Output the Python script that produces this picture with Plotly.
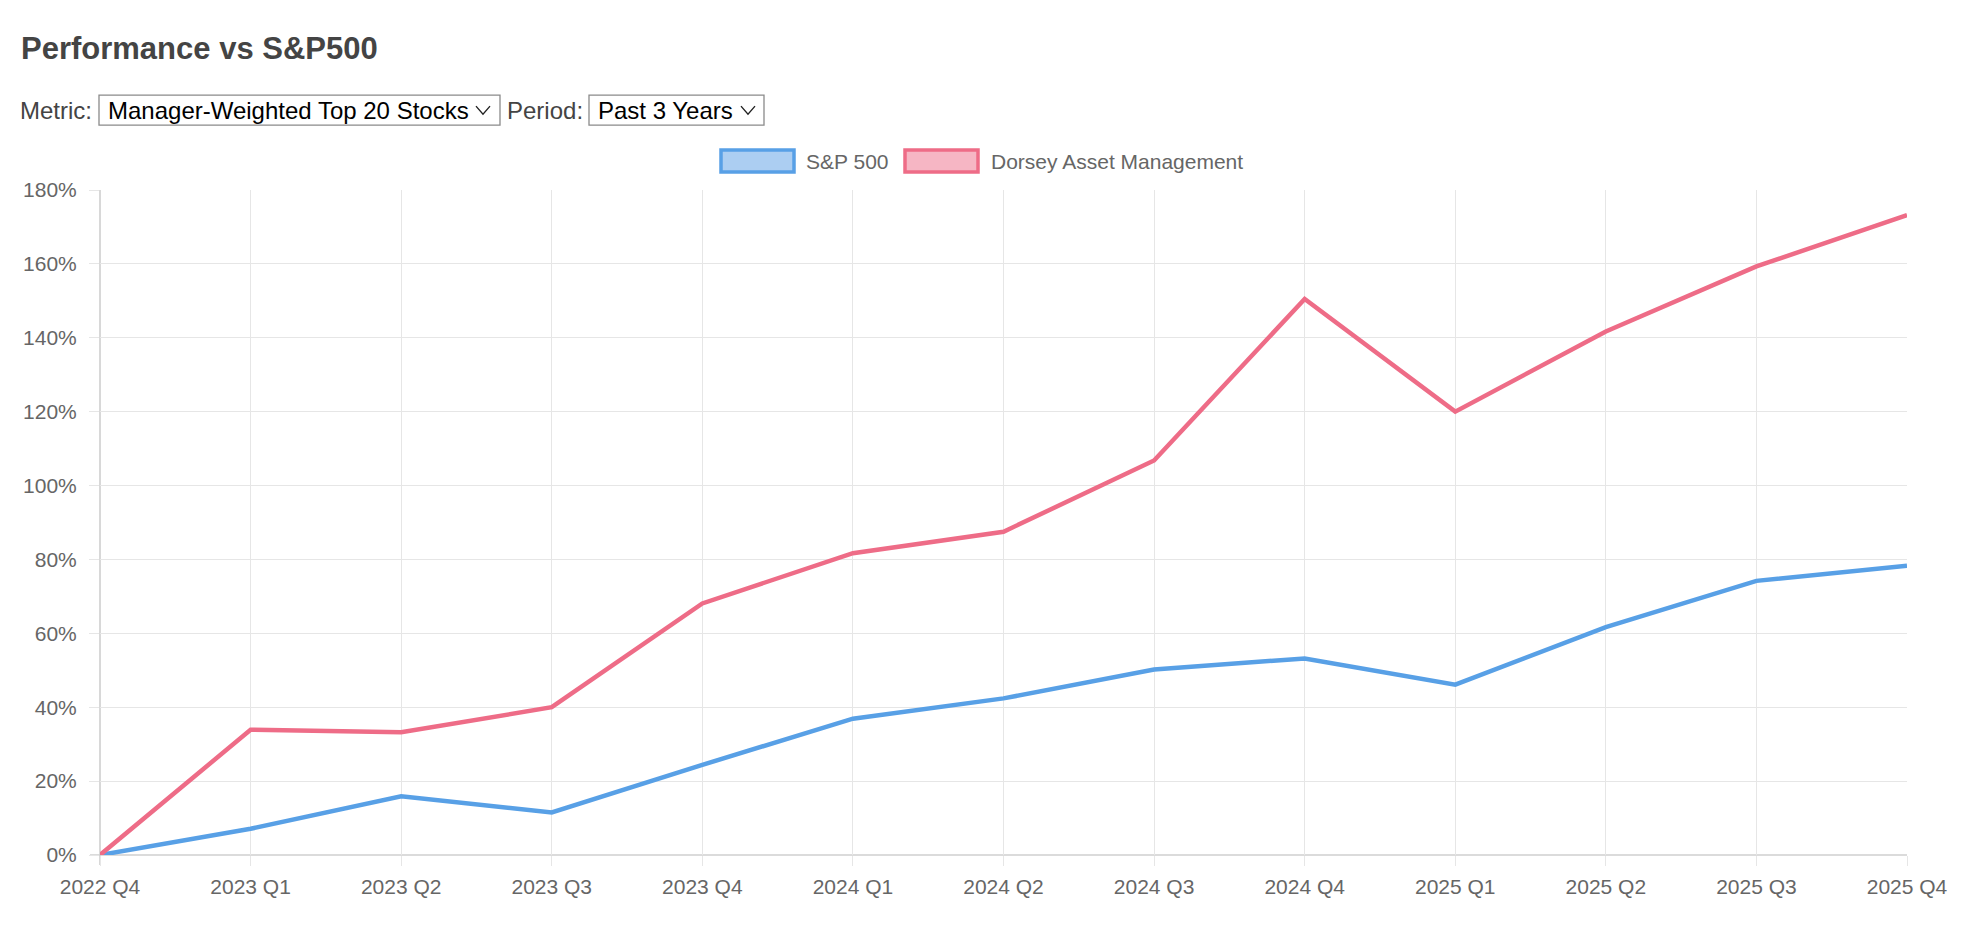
import plotly.graph_objects as go

quarters = ["2022 Q4", "2023 Q1", "2023 Q2", "2023 Q3", "2023 Q4", "2024 Q1", "2024 Q2",
            "2024 Q3", "2024 Q4", "2025 Q1", "2025 Q2", "2025 Q3", "2025 Q4"]
sp500 = [0, 7.1, 15.9, 11.5, 24.4, 36.9, 42.4, 50.2, 53.2, 46.1, 61.7, 74.2, 78.3]
dorsey = [0, 33.9, 33.2, 40.0, 68.1, 81.7, 87.5, 106.8, 150.5, 120.0, 141.7, 159.3, 173.2]
series_names = ["S&P 500", "Dorsey Asset Management"]
title_text = "Performance vs S&P500"
metric_label = "Metric:"
metric_value = "Manager-Weighted Top 20 Stocks"
period_label = "Period:"
period_value = "Past 3 Years"

W, H = 1964, 936
DX, DY = -8, -8.5
L, R, T, B = 100 + DX, 57 - DX, 190 + DY, 80 - DY
PW, PH = W - L - R, H - T - B

def px(x):
    return (x + DX - L) / PW

def py(y):
    return (H - B - (y + DY)) / PH

BLUE = "rgb(88,160,230)"
PINK = "rgb(238,108,135)"
BLUE_FILL = "rgb(172,206,242)"
PINK_FILL = "rgb(246,182,196)"
FONT = "Liberation Sans, Arial, Helvetica, sans-serif"

fig = go.Figure()
fig.add_trace(go.Scatter(x=list(range(len(quarters))), y=sp500, mode="lines", name=series_names[0],
                         line=dict(color=BLUE, width=4.5), showlegend=False))
fig.add_trace(go.Scatter(x=list(range(len(quarters))), y=dorsey, mode="lines", name=series_names[1],
                         line=dict(color=PINK, width=4.5), showlegend=False))

shapes = []
annotations = []

# Title
annotations.append(dict(x=px(19), y=py(48), xref="paper", yref="paper", xanchor="left", yanchor="middle",
                        text="<b>" + title_text.replace("&", "&amp;") + "</b>", showarrow=False,
                        font=dict(family=FONT, size=31, color="#444444")))

# Controls row
row_y = 110
CTRL = 24

def chevron(cx, cy):
    x0, x1, x2 = px(cx - 7), px(cx), px(cx + 7)
    ya, yb = py(cy - 4), py(cy + 4)
    return dict(type="path", xref="paper", yref="paper",
                path=f"M {x0},{ya} L {x1},{yb} L {x2},{ya}",
                line=dict(color="#222222", width=1.4), layer="above")

annotations.append(dict(x=px(18), y=py(row_y), xref="paper", yref="paper", xanchor="left", yanchor="middle",
                        text=metric_label, showarrow=False, font=dict(family=FONT, size=CTRL, color="#444444")))
shapes.append(dict(type="rect", xref="paper", yref="paper", x0=px(99), x1=px(500), y0=py(95), y1=py(125),
                   line=dict(color="#8a8a8a", width=1.3), fillcolor="white", layer="above"))
annotations.append(dict(x=px(106), y=py(row_y), xref="paper", yref="paper", xanchor="left", yanchor="middle",
                        text=metric_value, showarrow=False, font=dict(family=FONT, size=CTRL, color="#000000")))
shapes.append(chevron(483, 110))
annotations.append(dict(x=px(505), y=py(row_y), xref="paper", yref="paper", xanchor="left", yanchor="middle",
                        text=period_label, showarrow=False, font=dict(family=FONT, size=CTRL, color="#444444")))
shapes.append(dict(type="rect", xref="paper", yref="paper", x0=px(589), x1=px(764), y0=py(95), y1=py(125),
                   line=dict(color="#8a8a8a", width=1.3), fillcolor="white", layer="above"))
annotations.append(dict(x=px(596), y=py(row_y), xref="paper", yref="paper", xanchor="left", yanchor="middle",
                        text=period_value, showarrow=False, font=dict(family=FONT, size=CTRL, color="#000000")))
shapes.append(chevron(748, 110))

# Legend
leg_y0, leg_y1 = 150, 172
shapes.append(dict(type="rect", xref="paper", yref="paper", x0=px(721), x1=px(794), y0=py(leg_y0), y1=py(leg_y1),
                   line=dict(color=BLUE, width=3.5), fillcolor=BLUE_FILL))
annotations.append(dict(x=px(804), y=py(161), xref="paper", yref="paper", xanchor="left", yanchor="middle",
                        text=series_names[0], showarrow=False, font=dict(family=FONT, size=21, color="#666666")))
shapes.append(dict(type="rect", xref="paper", yref="paper", x0=px(905), x1=px(978), y0=py(leg_y0), y1=py(leg_y1),
                   line=dict(color=PINK, width=3.5), fillcolor=PINK_FILL))
annotations.append(dict(x=px(989), y=py(161), xref="paper", yref="paper", xanchor="left", yanchor="middle",
                        text=series_names[1], showarrow=False, font=dict(family=FONT, size=21, color="#666666")))

fig.update_layout(
    width=W, height=H,
    margin=dict(l=L, r=R, t=T, b=B),
    paper_bgcolor="white", plot_bgcolor="white",
    shapes=shapes, annotations=annotations,
    showlegend=False,
    xaxis=dict(
        tickmode="array", tickvals=list(range(len(quarters))), ticktext=quarters,
        range=[0, len(quarters) - 1],
        showgrid=True, gridcolor="#e6e6e6", gridwidth=1.3,
        ticks="outside", ticklen=10, tickcolor="#e6e6e6", tickwidth=1.3,
        showline=False, zeroline=False,
        tickfont=dict(family=FONT, size=21, color="#666666"),
        ticklabelstandoff=3,
    ),
    yaxis=dict(
        range=[0, 180], dtick=20, tick0=0, ticksuffix="%",
        showgrid=True, gridcolor="#e6e6e6", gridwidth=1.3,
        ticks="outside", ticklen=10, tickcolor="#e6e6e6", tickwidth=1.3,
        showline=False, zeroline=False,
        tickfont=dict(family=FONT, size=21, color="#666666"),
        ticklabelstandoff=8,
    ),
)

# axis lines (slightly darker)
fig.add_shape(type="line", xref="paper", yref="paper", x0=0, x1=0, y0=-10 / PH, y1=1,
              line=dict(color="#cfcfcf", width=1.6), layer="below")
fig.add_shape(type="line", xref="paper", yref="paper", x0=-10 / PW, x1=1, y0=0, y1=0,
              line=dict(color="#cfcfcf", width=1.6), layer="below")

fig.write_html("out.html")
